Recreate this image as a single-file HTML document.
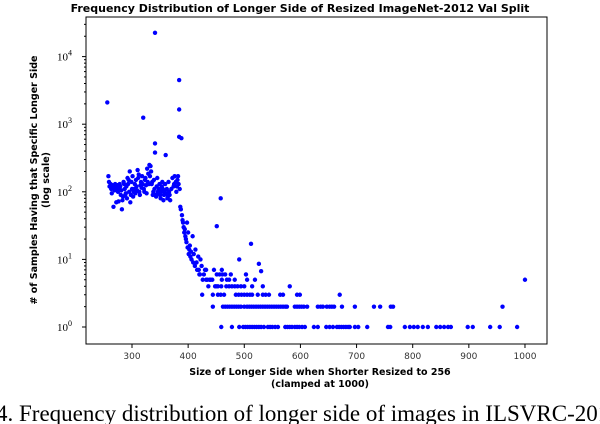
<!DOCTYPE html>
<html><head><meta charset="utf-8"><style>
body{margin:0;background:#fff;width:600px;height:424px;overflow:hidden;position:relative}
svg{position:absolute;left:0;top:0}
</style></head><body>
<svg id="chart" width="600" height="424">
<text x="300" y="12" text-anchor="middle" font-family="DejaVu Sans, sans-serif" font-weight="bold" font-size="11">Frequency Distribution of Longer Side of Resized ImageNet-2012 Val Split</text>
<rect x="86" y="17" width="461" height="327" fill="none" stroke="#000" stroke-width="1"/>
<g id="xt"></g><g id="yt"></g><g id="pts"></g>
<text x="320" y="375" text-anchor="middle" font-family="DejaVu Sans, sans-serif" font-weight="bold" font-size="9.5">Size of Longer Side when Shorter Resized to 256</text>
<text x="320" y="387" text-anchor="middle" font-family="DejaVu Sans, sans-serif" font-weight="bold" font-size="9.5">(clamped at 1000)</text>
<text transform="translate(37,180) rotate(-90)" text-anchor="middle" font-family="DejaVu Sans, sans-serif" font-weight="bold" font-size="9.5">
<tspan x="0" dy="0"># of Samples Having that Specific Longer Side</tspan><tspan x="0" dy="12">(log scale)</tspan></text>
<text x="-4" y="421" font-family="Liberation Serif, serif" font-size="23">4.  Frequency distribution of longer side of images in ILSVRC-2012</text>
</svg>
<script>
const xTicks=[300,400,500,600,700,800,900,1000];
const yTicks=[0,1,2,3,4];
const outlierX=[256,320,341,384,384,384,388,341,341,360,333,458,451,512,1000,960,491,526,530];
const outlierY=[2100,1250,22500,4500,1650,650,620,520,380,350,240,80,31,17,5,2,10,8.6,6.7];
const clusterX=[258,259,260,262,263,264,265,266,267,268,
269,270,271,272,273,274,275,276,277,278,
279,280,281,282,283,284,285,286,287,288,
289,290,291,292,293,294,295,296,297,298,
299,300,301,302,303,304,305,306,307,308,
309,310,311,312,313,314,315,316,317,318,
319,321,322,323,324,325,326,327,328,329,
330,331,332,334,335,336,337,338,339,340,
342,343,344,345,346,347,348,349,350,351,
352,353,354,355,356,357,358,359,361,362,
363,364,365,366,367,368,370,372,374,375,
376,378,379,380,381,382,383,385];
const clusterY=[170,140,120,130,110,95,125,115,60,120,
105,130,110,70,115,125,100,72,110,130,
120,90,105,55,75,85,140,130,110,90,
95,120,80,160,130,150,100,200,70,90,
140,110,170,85,100,110,130,95,150,120,
105,210,160,180,100,90,125,140,115,170,
130,110,100,150,160,125,95,220,140,185,
130,250,170,200,130,140,90,100,150,110,
90,85,120,160,100,95,110,130,90,80,
100,120,140,110,75,90,100,130,95,110,
80,85,140,100,90,75,110,160,120,130,
170,140,100,120,150,170,130,110];
const declineX=[386,387,389,390,391,392,393,394,395,396,397,398,399,400,401,402,403,404,405,406,408,409,410,412,413,415,416,418,420,422,424,426,428,430,432,436,440,444,450];
const declineY=[60,55,45,38,35,30,25,28,22,20,18,35,15,25,12,14,16,11,13,10,22,9,12,8,14,9,7,11,6,10,8,5,6,7,5,4,5,3,4];
const rowValues=[1,2,3,4,5,6,7];
const rowXs=[
[459,478,491,498,502,506,510,514,518,522,526,530,535,542,546,550,555,560,573,577,581,585,590,594,598,603,608,624,631,646,652,658,665,669,673,677,681,685,688,697,703,719,756,760,786,795,802,809,818,827,842,849,856,863,868,898,907,938,955,986],
[444,462,466,470,474,478,482,486,490,494,500,505,509,513,517,521,525,529,533,537,541,545,549,553,557,561,565,569,573,576,590,594,598,602,606,612,631,636,640,647,652,656,660,674,697,731,742,761,765],
[425,453,458,464,485,490,495,500,505,510,514,524,533,538,544,564,569,594,599,670],
[448,453,459,468,473,478,483,488,494,500,514,533,581],
[434,438,443,460,469,473,483,505,519],
[421,451,456,461,466,476,503],
[419,432,446,460]];
const NS='http://www.w3.org/2000/svg';
function sx(v){return 132+(v-300)*0.5614;}
function sy(v){return 327-Math.log10(v)*67.6;}
function mk(t,a){const e=document.createElementNS(NS,t);for(const k in a)e.setAttribute(k,a[k]);return e;}
const xt=document.getElementById('xt'),yt=document.getElementById('yt'),pts=document.getElementById('pts');
xTicks.forEach(v=>{const x=sx(v);
const l=mk('line',{x1:x,x2:x,y1:344,y2:348,stroke:'#000'});

xt.appendChild(l);
const t=mk('text',{x:x,y:359,'text-anchor':'middle','font-family':'DejaVu Sans, sans-serif','font-size':'9',fill:'#333'});t.textContent=v;

xt.appendChild(t);});
yTicks.forEach(p=>{const y=sy(Math.pow(10,p));
const l=mk('line',{x1:82,x2:86,y1:y,y2:y,stroke:'#000'});

yt.appendChild(l);
for(let m=2;m<10;m++){const yy=sy(m*Math.pow(10,p));if(yy<17)break;
const n=mk('line',{x1:84,x2:86,y1:yy,y2:yy,stroke:'#000'});

yt.appendChild(n);}
const t=mk('text',{x:72,y:y+4,'text-anchor':'end','font-family':'Liberation Serif, serif','font-size':'11'});t.textContent='10';


const s=mk('tspan',{dy:'-5','font-size':'8'});s.textContent=p;t.appendChild(s);yt.appendChild(t);});
function dot(x,y){const c=mk('circle',{cx:sx(x),cy:sy(y),r:2.2,fill:'#0000ff'});

pts.appendChild(c);}
outlierX.forEach((x,i)=>dot(x,outlierY[i]));
clusterX.forEach((x,i)=>dot(x,clusterY[i]));
declineX.forEach((x,i)=>dot(x,declineY[i]));
rowXs.forEach((row,r)=>row.forEach(x=>dot(x,rowValues[r])));
</script>
</body></html>
